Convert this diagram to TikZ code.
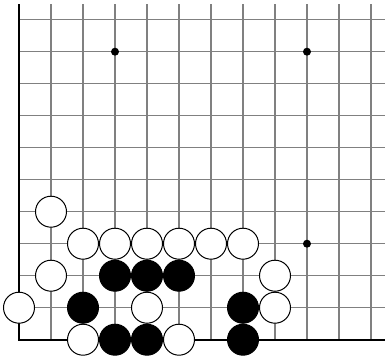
\documentclass[tikz,border=0pt]{standalone}
\begin{document}
\begin{tikzpicture}[x=1bp,y=-1bp,
  gridline/.style={draw=black!50,line width=1.2bp},
  edgeline/.style={draw=black,line width=2bp},
  whitestone/.style={draw=black,fill=white,line width=1bp},
  blackstone/.style={draw=black,fill=black,line width=1bp},
  starpt/.style={fill=black}]
\useasboundingbox (0,0) rectangle (385,360);
% grid
\foreach \i in {1,...,11} \draw[gridline] (19+32*\i,4) -- (19+32*\i,340);
\foreach \j in {0,...,9} \draw[gridline] (19,19.7+32*\j) -- (385,19.7+32*\j);
\draw[edgeline] (19,4) -- (19,339.7) -- (385,339.7);
% star points
\foreach \i/\j in {3/1,9/1,9/7} \fill[starpt] (19+32*\i,19.7+32*\j) circle (4);
% white stones
\foreach \i/\j in {1/6,2/7,3/7,4/7,5/7,6/7,7/7,1/8,8/8,0/9,4/9,8/9,2/10,5/10}
  \draw[whitestone] (19+32*\i,19.7+32*\j) circle (15.5);
% black stones
\foreach \i/\j in {3/8,4/8,5/8,2/9,7/9,3/10,4/10,7/10}
  \draw[blackstone] (19+32*\i,19.7+32*\j) circle (15.5);
\end{tikzpicture}
\end{document}
